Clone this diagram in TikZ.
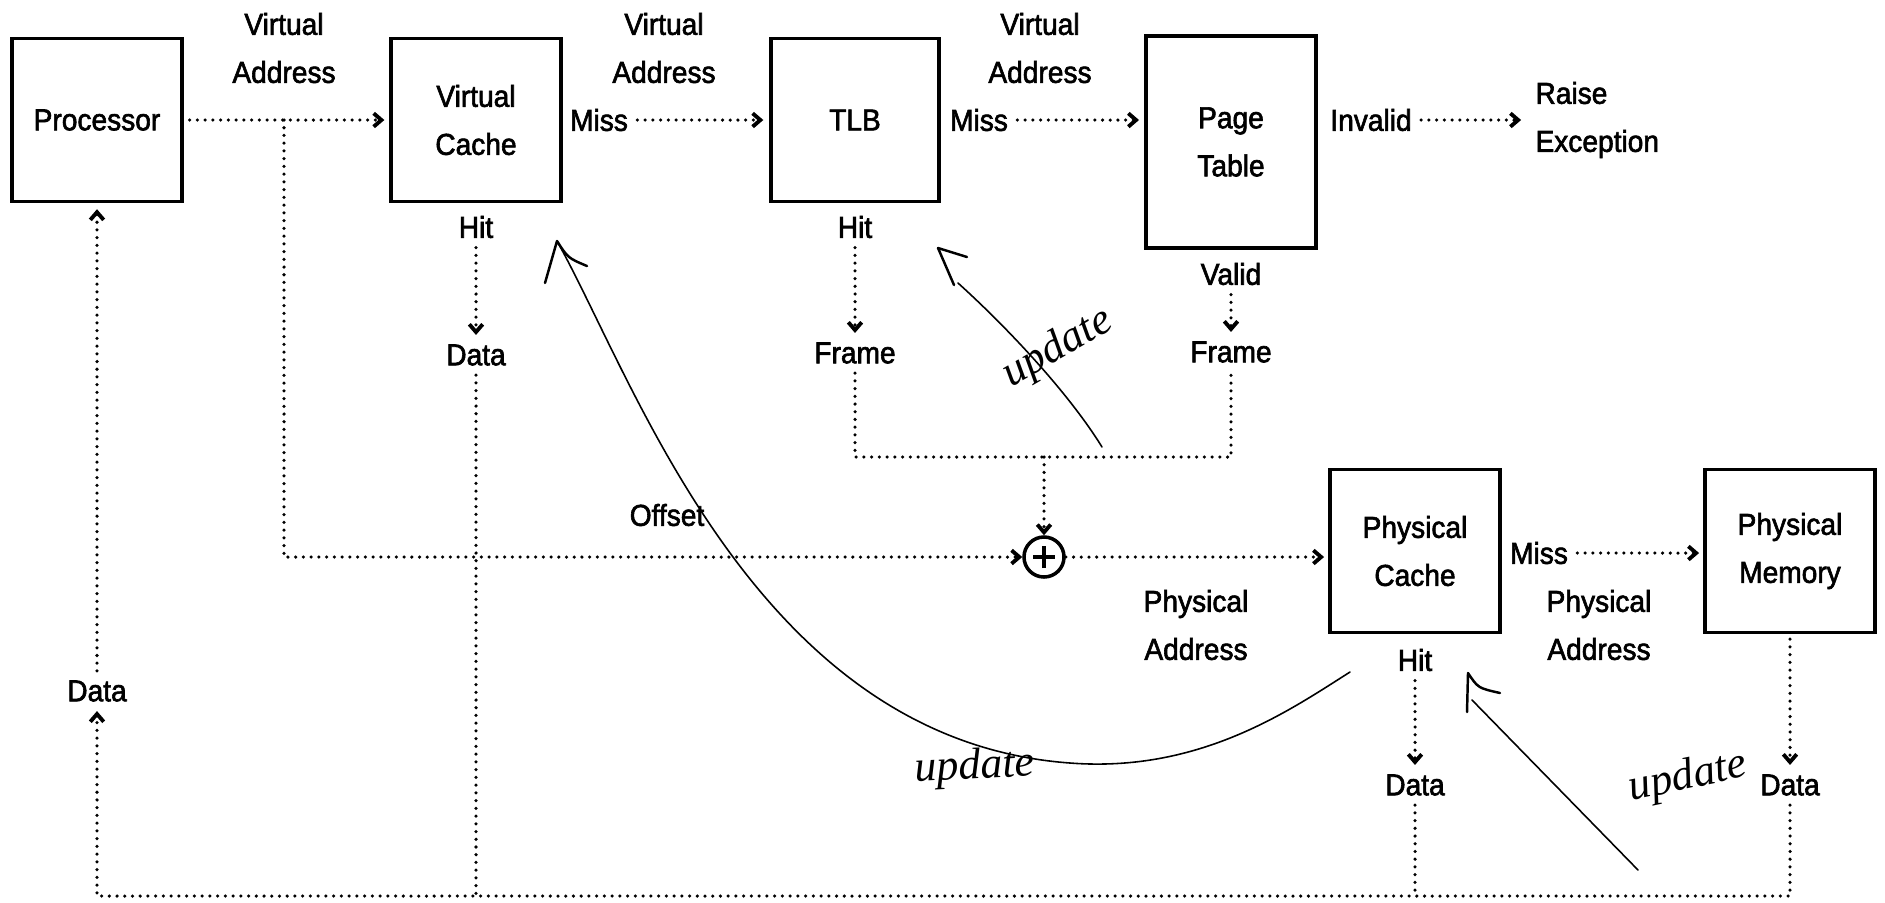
\documentclass[tikz,border=0pt]{standalone}
\usepackage{fontspec}
\setmainfont{Liberation Sans}[FakeStretch=0.93, FakeBold=2]
\newfontfamily\handfont{Liberation Serif}
\usetikzlibrary{arrows.meta}
\begin{document}
\begin{tikzpicture}[x=0.01cm,y=-0.01cm,
  every node/.style={font=\fontsize{8.6}{13.66}\selectfont},
  box/.style={draw, line width=0.95pt, minimum width=1.70cm, minimum height=1.63cm, align=center, inner sep=0pt},
  lbl/.style={align=center, inner sep=2.5pt},
  dotline/.style={line width=1pt, line cap=round, dash pattern=on 0pt off 2.2pt},
  dotarrow/.style={dotline, -{Straight Barb[length=2.2pt,width=3.8pt,line width=1.1pt]}},
  hand/.style={line width=0.45pt, line cap=round, line join=round},
  handtext/.style={font=\handfont\itshape\fontsize{12.5}{12.5}\selectfont, inner sep=0pt}
]
\useasboundingbox (0,0) rectangle (1885,902);

% boxes
\node[box] (proc) at (97,120) {Processor};
\node[box] (vc) at (476,120) {Virtual\\Cache};
\node[box, minimum width=1.68cm] (tlb) at (855,120) {TLB};
\node[box, minimum height=2.12cm] (pt) at (1231,142) {Page\\Table};
\node[box] (pc) at (1415,551) {Physical\\Cache};
\node[box] (pm) at (1790,551) {Physical\\Memory};

% labels
\node[lbl] (va1) at (284,48) {Virtual\\Address};
\node[lbl] (miss1) at (599,120) {Miss};
\node[lbl] (va2) at (664,48) {Virtual\\Address};
\node[lbl] (miss2) at (979,120) {Miss};
\node[lbl] (va3) at (1040,48) {Virtual\\Address};
\node[lbl] (inv) at (1371,120) {Invalid};
\node[lbl, align=left, anchor=west] (raise) at (1526,120) {Raise\\Exception};
\node[lbl] (hit1) at (476,227) {Hit};
\node[lbl] (data1) at (476,355) {Data};
\node[lbl] (hit2) at (855,227) {Hit};
\node[lbl] (frame1) at (855,353) {Frame};
\node[lbl] (valid) at (1231,274) {Valid};
\node[lbl] (frame2) at (1231,352) {Frame};
\node[lbl] (offset) at (667,515) {Offset};
\node[draw, circle, line width=1pt, minimum size=0.4cm, inner sep=0pt] (plus) at (1044,557) {};
\draw[line width=1.1pt] ([xshift=-0.11cm]plus.center) -- ([xshift=0.11cm]plus.center)
  ([yshift=-0.11cm]plus.center) -- ([yshift=0.11cm]plus.center);
\node[lbl] (pa1) at (1196,625) {Physical\\Address};
\node[lbl] (miss3) at (1539,553) {Miss};
\node[lbl] (pa2) at (1599,625) {Physical\\Address};
\node[lbl] (hit3) at (1415,660) {Hit};
\node[lbl] (data3) at (1415,785) {Data};
\node[lbl] (data4) at (1790,785) {Data};
\node[lbl] (data0) at (97,691) {Data};

\coordinate (j1) at (284,120);
\coordinate (j2) at (1044,457);
\coordinate (b0) at (97,896);

% connectors
\draw[dotarrow, shorten <=1.7pt, shorten >=1.4pt] (proc) -- (vc);
\draw[dotarrow, shorten >=1.7pt] (miss1) -- (tlb);
\draw[dotarrow, shorten >=1.5pt] (miss2) -- (miss2 -| pt.west);
\draw[dotarrow, shorten >=1.4pt] (inv) -- (raise.west);
\draw[dotarrow] (hit1) -- (data1);
\draw[dotarrow] (hit2) -- (frame1);
\draw[dotarrow] (valid) -- (frame2);
\draw[dotarrow] (hit3) -- (data3);
\draw[dotarrow, shorten <=1.4pt] (pm) -- (data4);
\draw[dotline] (frame1) -- (frame1 |- j2) -- (frame2 |- j2) -- (frame2);
\draw[dotarrow] (j2) -- (plus);
\draw[dotarrow] (j1) |- (plus);
\draw[dotarrow, shorten >=1.2pt] (plus) -- (plus -| pc.west);
\draw[dotarrow, shorten >=1.2pt] (miss3) -- (miss3 -| pm.west);
\draw[dotline] (data1) -- (data1 |- b0);
\draw[dotline] (data3) -- (data3 |- b0);
\draw[dotarrow] (data4) |- (b0) -- (data0);
\draw[dotarrow, shorten >=1.7pt] (data0) -- (proc);

% handwritten annotations
\draw[hand] (557,241) .. controls (635,380) and (755,740) .. (1070,763)
  .. controls (1200,773) and (1290,710) .. (1350,672);
\draw[hand, line width=0.7pt] (545,283) -- (557,241) .. controls (568,258) .. (587,266);
\node[handtext, rotate=3] (u1) at (975,768) {update};

\draw[hand] (1102,447) .. controls (1070,395) and (1010,330) .. (958,283);
\draw[hand, line width=0.7pt] (954,285) -- (938,248) -- (967,257);
\node[handtext, rotate=30] (u2) at (1058,348) {update};

\draw[hand] (1638,870) -- (1472,700);
\draw[hand, line width=0.7pt] (1467,712) -- (1468,673) .. controls (1478,688) .. (1500,693);
\node[handtext, rotate=12] (u3) at (1688,778) {update};
\end{tikzpicture}
\end{document}
